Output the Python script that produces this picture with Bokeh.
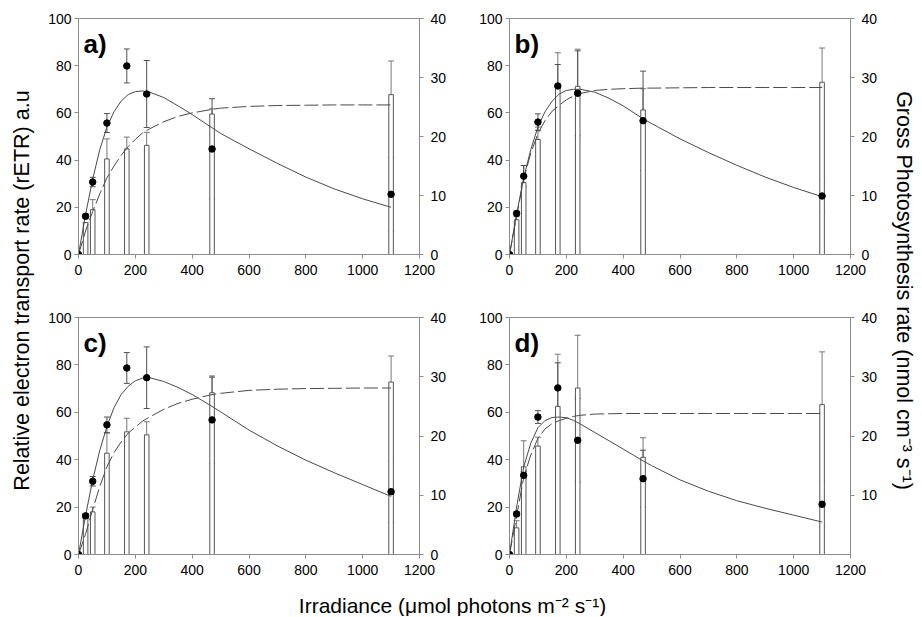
import math
from bokeh.plotting import figure
from bokeh.models import Range1d, LinearAxis, FixedTicker, Whisker, TeeHead, ColumnDataSource, Label
from bokeh.layouts import row, column
from bokeh.embed import file_html
from bokeh.resources import INLINE

FONT = "Liberation Sans"

# ---------------- data ----------------
irradiance = [0, 25, 50, 100, 170, 240, 470, 1100]
x_ticks = [0, 200, 400, 600, 800, 1000, 1200]
left_ticks = [0, 20, 40, 60, 80, 100]
right_ticks = [0, 10, 20, 30, 40]

# rETR (dots, left axis) and SD
etr_a = [0, 16.2, 30.7, 55.7, 79.9, 68.0, 44.7, 25.5]
etr_err_a = [0, 1.0, 2.0, 4.0, 7.2, 14.2, 21.3, 15.6]
etr_b = [0, 17.4, 33.2, 56.1, 71.4, 68.3, 56.7, 24.8]
etr_err_b = [0, 1.0, 4.5, 3.5, 9.1, 18.0, 21.0, 6.8]
etr_c = [0, 16.3, 30.9, 54.7, 78.7, 74.6, 56.8, 26.5]
etr_err_c = [0, 1.0, 2.0, 3.3, 6.5, 13.0, 18.5, 13.0]
etr_d = [0, 17.1, 33.4, 58.0, 70.3, 48.2, 32.0, 21.2]
etr_err_d = [0, 1.0, 1.5, 2.7, 10.6, 17.6, 12.0, 9.5]

# Gross photosynthesis (bars, right axis) and SD
gp_a = [0, 5.4, 7.6, 16.2, 17.9, 18.5, 23.8, 27.1]
gp_err_a = [0, 0, 1.7, 3.4, 2.0, 2.2, 0.9, 5.7]
gp_b = [0, 5.9, 12.2, 19.5, 28.2, 28.5, 24.5, 29.2]
gp_err_b = [0, 0.5, 2.9, 2.1, 6.0, 6.3, 3.6, 5.8]
gp_c = [0, 6.5, 7.2, 17.1, 20.7, 20.2, 27.3, 29.1]
gp_err_c = [0, 0, 0.8, 3.4, 2.3, 2.2, 2.6, 4.4]
gp_d = [0, 4.5, 14.8, 18.3, 25.0, 28.1, 16.4, 25.3]
gp_err_d = [0, 1.2, 4.4, 1.5, 8.8, 8.9, 3.3, 8.9]

# fitted curves
curve_x = [0, 25, 50, 75, 100, 125, 150, 175, 200, 225, 250, 300, 350, 400, 470, 500,
           600, 700, 800, 900, 1000, 1100]
etr_fit_a = [0, 17, 32, 44.5, 54, 60.5, 65, 67.8, 69, 69.3, 68.8, 66.5, 63, 59.3, 53.7, 51.3,
             44.8, 38.6, 32.8, 27.8, 23.6, 20]
gp_fit_a = [0, 4, 7.3, 10.3, 13, 15, 16.8, 18.3, 19.5, 20.6, 21.3, 22.5, 23.4, 24, 24.6, 24.8,
            25.1, 25.25, 25.3, 25.35, 25.35, 25.35]
etr_fit_b = [0, 17, 32.5, 44.5, 54, 60.5, 65, 68, 69.5, 70, 70, 68.8, 66.2, 63, 57.5, 55.5,
             49, 43.2, 37.8, 32.8, 28.4, 24.5]
gp_fit_b = [0, 6.5, 12.8, 17.2, 20.5, 22.7, 24.3, 25.3, 26.2, 26.9, 27.3, 27.8, 28, 28.1, 28.2, 28.2,
            28.25, 28.3, 28.3, 28.3, 28.3, 28.3]
etr_fit_c = [0, 16.5, 31.5, 44, 54, 62, 67.5, 71, 73.3, 74.4, 74.6, 73, 70.5, 67.5, 62.5, 60.2,
             52.5, 45.8, 39.8, 34.5, 29.5, 24.5]
gp_fit_c = [0, 3.5, 7.6, 11.5, 14.8, 17.2, 19, 20.5, 21.5, 22.5, 23.2, 24.5, 25.5, 26.2, 27, 27.2,
            27.7, 27.9, 28, 28.05, 28.1, 28.1]
etr_fit_d = [0, 20, 37, 47, 53.5, 56.5, 57.8, 58, 57.7, 56.6, 55, 51.5, 48, 44.5, 39.5, 37.5,
             31.5, 26.7, 22.7, 19.5, 16.6, 13.7]
gp_fit_d = [0, 6.5, 13, 16.8, 19.6, 21.2, 22.1, 22.6, 23, 23.3, 23.5, 23.7, 23.75, 23.8, 23.8, 23.8,
            23.8, 23.8, 23.8, 23.8, 23.8, 23.8]

AXIS_GRAY = "#8c8c8c"
LINE_DARK = "#4a4a4a"


def style_axis(ax, standoff):
    ax.axis_line_color = AXIS_GRAY
    ax.major_tick_line_color = AXIS_GRAY
    ax.minor_tick_line_color = None
    ax.major_tick_in = 0
    ax.major_tick_out = 4
    ax.major_label_standoff = standoff
    ax.major_label_text_font = FONT
    ax.major_label_text_font_size = "14px"
    ax.major_label_text_color = "black"


def panel(tag, etr, etr_err, gp, gp_err, etr_fit, gp_fit, mbl, mbr, mbt, mbb, fh, odd_right=False):
    p = figure(frame_width=341, frame_height=fh, x_range=Range1d(0, 1200), y_range=Range1d(0, 100),
               output_backend="svg", toolbar_location=None,
               min_border_left=mbl, min_border_right=mbr, min_border_top=mbt, min_border_bottom=mbb)
    p.extra_y_ranges = {"right": Range1d(0, 40)}
    p.grid.visible = False
    p.outline_line_color = AXIS_GRAY
    p.background_fill_color = "white"
    p.border_fill_color = "white"

    p.xaxis.ticker = FixedTicker(ticks=x_ticks)
    p.yaxis.ticker = FixedTicker(ticks=left_ticks)
    style_axis(p.xaxis[0], 6)
    style_axis(p.yaxis[0], 3)
    rax = LinearAxis(y_range_name="right",
                     ticker=FixedTicker(ticks=[t for t in right_ticks if not (odd_right and t == 0)]))
    style_axis(rax, 7)
    p.add_layout(rax, "right")
    if odd_right:
        p.add_layout(Label(x=1200, y=4, y_range_name="right", text="0", x_offset=11,
                           text_align="left", text_baseline="middle", text_font=FONT,
                           text_font_size="14px", text_color="black"))

    # bars (gross photosynthesis)
    bsrc = ColumnDataSource(dict(x=irradiance, top=gp,
                                 upper=[g + e for g, e in zip(gp, gp_err)]))
    p.vbar(x="x", top="top", bottom=0, width=16, source=bsrc, y_range_name="right",
           fill_color="white", line_color="#555555", line_width=1)
    p.add_layout(Whisker(source=bsrc, base="x", lower="top", upper="upper", y_range_name="right",
                         line_color="#777777", line_width=1,
                         upper_head=TeeHead(size=6, line_color="#777777", line_width=1),
                         lower_head=None))

    # curves
    p.line(curve_x, gp_fit, y_range_name="right", line_color=LINE_DARK, line_width=1,
           line_dash="14 4")
    p.line(curve_x, etr_fit, line_color=LINE_DARK, line_width=1)

    # rETR dots with error bars
    dsrc = ColumnDataSource(dict(x=irradiance, y=etr,
                                 lo=[v - e for v, e in zip(etr, etr_err)],
                                 hi=[v + e for v, e in zip(etr, etr_err)]))
    p.add_layout(Whisker(source=dsrc, base="x", lower="lo", upper="hi",
                         line_color="#505050", line_width=1,
                         upper_head=TeeHead(size=6, line_color="#505050", line_width=1),
                         lower_head=TeeHead(size=6, line_color="#505050", line_width=1)))
    p.scatter("x", "y", source=dsrc, size=6.5, fill_color="black", line_color="black")

    p.add_layout(Label(x=17.6, y=89.1, text=tag, text_font=FONT, text_font_size="26px",
                       text_font_style="bold", text_color="black", text_baseline="alphabetic"))
    return p


def blank(w, h):
    f = figure(frame_width=w, frame_height=h, x_range=Range1d(0, w), y_range=Range1d(0, h),
               output_backend="svg", toolbar_location=None, min_border=0,
               x_axis_location=None, y_axis_location=None)
    f.grid.visible = False
    f.outline_line_color = None
    f.border_fill_color = "white"
    return f


pa = panel("a)", etr_a, etr_err_a, gp_a, gp_err_a, etr_fit_a, gp_fit_a, 34, 51, 18, 36, 236)
pb = panel("b)", etr_b, etr_err_b, gp_b, gp_err_b, etr_fit_b, gp_fit_b, 39, 40, 18, 36, 236)
pc = panel("c)", etr_c, etr_err_c, gp_c, gp_err_c, etr_fit_c, gp_fit_c, 34, 51, 27, 30, 237)
pd = panel("d)", etr_d, etr_err_d, gp_d, gp_err_d, etr_fit_d, gp_fit_d, 39, 40, 27, 30, 237, odd_right=True)

lt = blank(44, 616)
lt.add_layout(Label(x=21, y=326, text="Relative electron transport rate (rETR) a.u", angle=math.pi / 2,
                    text_align="center", text_baseline="middle", text_font=FONT,
                    text_font_size="21.5px", text_color="black"))
rt = blank(31, 616)
rt.add_layout(Label(x=13.5, y=326, text="Gross Photosynthesis rate (nmol cm\u207b\u00b3 s\u207b\u00b9)",
                    angle=-math.pi / 2, text_align="center", text_baseline="middle", text_font=FONT,
                    text_font_size="21.5px", text_color="black"))
bt = blank(846, 32)
bt.add_layout(Label(x=408, y=11, text="Irradiance (\u03bcmol photons m\u207b\u00b2 s\u207b\u00b9)",
                    text_align="center", text_baseline="alphabetic", text_font=FONT,
                    text_font_size="21px", text_color="black"))

layout = row(lt, column(row(pa, pb), row(pc, pd), bt), rt)

open("out.html", "w").write(file_html(layout, INLINE))
